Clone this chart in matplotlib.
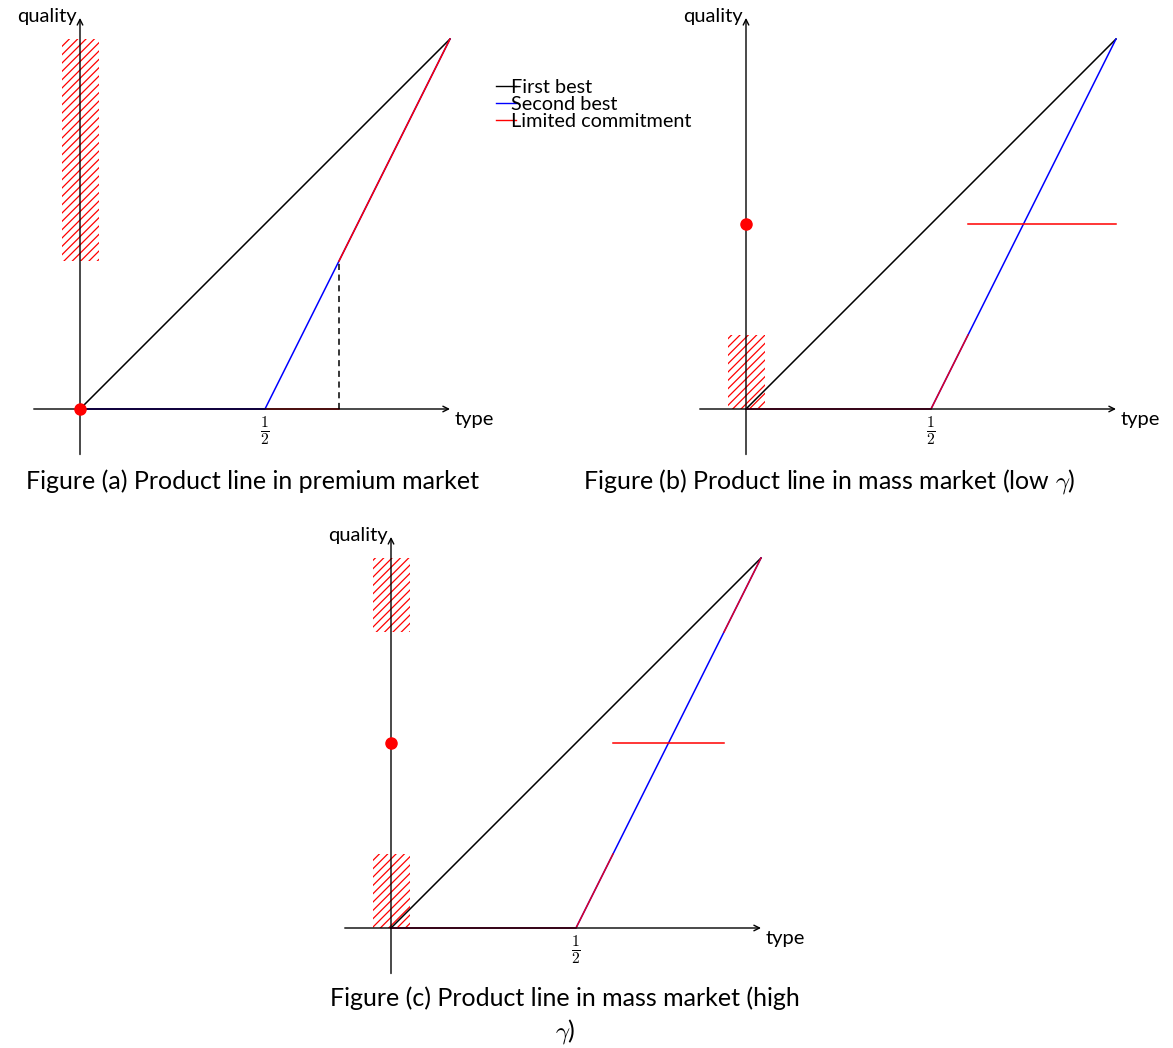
import matplotlib
matplotlib.use('Agg')
import matplotlib.pyplot as plt
from matplotlib.patches import Rectangle
from matplotlib.lines import Line2D

plt.rcParams['font.family'] = ['Lato', 'DejaVu Sans']
plt.rcParams['mathtext.fontset'] = 'cm'
plt.rcParams['hatch.linewidth'] = 0.9

# data (type on x, quality on y)
fb_theta = [0, 1]
fb_q = [0, 1]
sb_theta = [0, 0.5, 1]
sb_q = [0, 0, 1]

# (a) premium market
a_lc_low_theta = [0, 0.7]
a_lc_low_q = [0, 0]
a_lc_high_theta = [0.7, 1]
a_lc_high_q = [0.4, 1]
a_cut_theta = [0.7, 0.7]
a_cut_q = [0, 0.4]
a_dot = (0, 0)
a_rects = [(-0.05, 0.4, 0.1, 0.6)]

# (b) mass market, low gamma
b_lc_theta = [0, 0.5, 0.6]
b_lc_q = [0, 0, 0.2]
b_flat_theta = [0.6, 1.0]
b_flat_q = [0.5, 0.5]
b_dot = (0, 0.5)
b_rects = [(-0.05, 0, 0.1, 0.2)]

# (c) mass market, high gamma
c_lc_theta = [0, 0.5, 0.6]
c_lc_q = [0, 0, 0.2]
c_flat_theta = [0.6, 0.9]
c_flat_q = [0.5, 0.5]
c_top_theta = [0.9, 1.0]
c_top_q = [0.8, 1.0]
c_dot = (0, 0.5)
c_rects = [(-0.05, 0, 0.1, 0.2), (-0.05, 0.8, 0.1, 0.2)]

W, H = 1173, 1048
S = 370.0  # px per unit
fig = plt.figure(figsize=(W / 100, H / 100), dpi=100)

X0, X1, Y0, Y1 = -0.15, 1.2, -0.15, 1.1


def make_axes(ox, oy):
    left = ox + X0 * S
    top = oy - Y1 * S
    ax = fig.add_axes([left / W, 1 - (top + (Y1 - Y0) * S) / H,
                       (X1 - X0) * S / W, (Y1 - Y0) * S / H])
    ax.set_xlim(X0, X1)
    ax.set_ylim(Y0, Y1)
    ax.axis('off')
    # axes with arrows
    ax.annotate('', xy=(1.0, 0), xytext=(-0.125, 0),
                arrowprops=dict(arrowstyle='->', lw=1.0, color='black', shrinkA=0, shrinkB=0))
    ax.annotate('', xy=(0, 1.057), xytext=(0, -0.123),
                arrowprops=dict(arrowstyle='->', lw=1.0, color='black', shrinkA=0, shrinkB=0))
    ax.text(1.012, -0.028, 'type', fontsize=14.5, ha='left', va='center')
    ax.text(-0.008, 1.06, 'quality', fontsize=14.5, ha='right', va='center')
    ax.text(0.5, -0.015, r'$\frac{1}{2}$', fontsize=16, ha='center', va='top')
    return ax


def hatch(ax, rects):
    for x, y, w, h in rects:
        ax.add_patch(Rectangle((x, y), w, h, facecolor='none', edgecolor='red',
                               hatch='////', linewidth=0, zorder=0))


lw = 1.1

# (a)
ax = make_axes(80, 409)
hatch(ax, a_rects)
ax.plot(fb_theta, fb_q, color='black', lw=lw)
ax.plot(a_lc_low_theta, a_lc_low_q, color='red', lw=lw)
ax.plot(sb_theta, sb_q, color='blue', lw=lw)
ax.plot(a_lc_high_theta, a_lc_high_q, color='red', lw=lw)
ax.plot(a_cut_theta, a_cut_q, color='black', lw=lw, ls=(0, (4, 3)))
ax.plot(*a_dot, 'o', color='red', ms=8, zorder=5)

# (b)
ax = make_axes(746, 409)
hatch(ax, b_rects)
ax.plot(fb_theta, fb_q, color='black', lw=lw)
ax.plot(sb_theta, sb_q, color='blue', lw=lw)
ax.plot(b_lc_theta, b_lc_q, color='red', lw=lw, alpha=0.85)
ax.plot(b_flat_theta, b_flat_q, color='red', lw=lw)
ax.plot(*b_dot, 'o', color='red', ms=8, zorder=5)

# (c)
ax = make_axes(391, 928)
hatch(ax, c_rects)
ax.plot(fb_theta, fb_q, color='black', lw=lw)
ax.plot(sb_theta, sb_q, color='blue', lw=lw)
ax.plot(c_lc_theta, c_lc_q, color='red', lw=lw, alpha=0.85)
ax.plot(c_flat_theta, c_flat_q, color='red', lw=lw)
ax.plot(c_top_theta, c_top_q, color='red', lw=lw, alpha=0.85)
ax.plot(*c_dot, 'o', color='red', ms=8, zorder=5)

# legend
handles = [Line2D([], [], color='black', lw=1.0),
           Line2D([], [], color='blue', lw=1.0),
           Line2D([], [], color='red', lw=1.0)]
fig.legend(handles, ['First best', 'Second best', 'Limited commitment'],
           loc='upper left', bbox_to_anchor=(496 / W, 1 - 79 / H),
           frameon=False, fontsize=14.3, handlelength=1.0, handletextpad=-0.25,
           labelspacing=0.0, borderpad=0, borderaxespad=0)

# captions
fig.text(253 / W, 1 - 481 / H, 'Figure (a) Product line in premium market',
         fontsize=18, ha='center', va='center')
fig.text(829 / W, 1 - 481 / H, r'Figure (b) Product line in mass market (low $\gamma$)',
         fontsize=18, ha='center', va='center')
fig.text(565 / W, 1 - 1016 / H, 'Figure (c) Product line in mass market (high\n' + r'$\gamma$)',
         fontsize=18, ha='center', va='center', multialignment='center', linespacing=1.35)

fig.savefig('out.png', dpi=100)
